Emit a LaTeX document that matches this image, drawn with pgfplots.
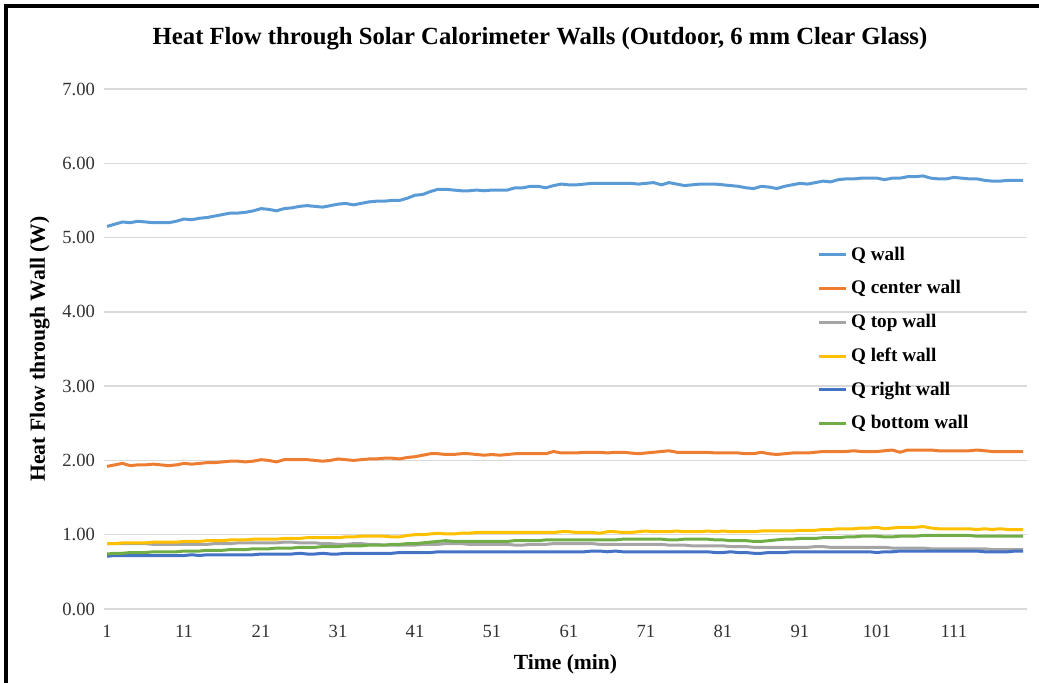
\documentclass[border=0pt]{standalone}
\usepackage{fontspec}
\setmainfont{Liberation Serif}
\usepackage{pgfplots}
\usepackage{pgfplotstable}
\pgfplotsset{compat=1.18}

\definecolor{cwall}{HTML}{5B9BD5}
\definecolor{ccenter}{HTML}{ED7D31}
\definecolor{ctop}{HTML}{A5A5A5}
\definecolor{cleft}{HTML}{FFC000}
\definecolor{cright}{HTML}{4472C4}
\definecolor{cbottom}{HTML}{70AD47}
\definecolor{gridgrey}{HTML}{D9D9D9}

% Heat flow (W) per minute for each wall
\pgfplotstableread{
t wall center top left right bottom
1 5.15 1.92 0.88 0.88 0.71 0.74
2 5.18 1.94 0.88 0.88 0.72 0.75
3 5.21 1.96 0.88 0.89 0.72 0.75
4 5.20 1.93 0.88 0.89 0.72 0.76
5 5.22 1.94 0.88 0.89 0.72 0.76
6 5.21 1.94 0.88 0.89 0.72 0.76
7 5.20 1.95 0.87 0.90 0.72 0.77
8 5.20 1.94 0.87 0.90 0.72 0.77
9 5.20 1.93 0.87 0.90 0.72 0.77
10 5.22 1.94 0.87 0.90 0.72 0.77
11 5.25 1.96 0.87 0.91 0.72 0.78
12 5.24 1.95 0.87 0.91 0.73 0.78
13 5.26 1.96 0.87 0.91 0.72 0.78
14 5.27 1.97 0.87 0.92 0.73 0.79
15 5.29 1.97 0.88 0.92 0.73 0.79
16 5.31 1.98 0.88 0.92 0.73 0.79
17 5.33 1.99 0.88 0.93 0.73 0.80
18 5.33 1.99 0.89 0.93 0.73 0.80
19 5.34 1.98 0.89 0.93 0.73 0.80
20 5.36 1.99 0.89 0.94 0.73 0.81
21 5.39 2.01 0.89 0.94 0.74 0.81
22 5.38 2.00 0.89 0.94 0.74 0.81
23 5.36 1.98 0.89 0.94 0.74 0.82
24 5.39 2.01 0.90 0.95 0.74 0.82
25 5.40 2.01 0.90 0.95 0.74 0.82
26 5.42 2.01 0.89 0.95 0.75 0.83
27 5.43 2.01 0.89 0.96 0.74 0.83
28 5.42 2.00 0.89 0.96 0.74 0.83
29 5.41 1.99 0.88 0.96 0.75 0.84
30 5.43 2.00 0.88 0.96 0.74 0.84
31 5.45 2.02 0.87 0.96 0.74 0.84
32 5.46 2.01 0.87 0.97 0.75 0.85
33 5.44 2.00 0.88 0.97 0.75 0.85
34 5.46 2.01 0.88 0.98 0.75 0.85
35 5.48 2.02 0.87 0.98 0.75 0.86
36 5.49 2.02 0.87 0.98 0.75 0.86
37 5.49 2.03 0.86 0.98 0.75 0.86
38 5.50 2.03 0.86 0.97 0.75 0.87
39 5.50 2.02 0.86 0.97 0.76 0.87
40 5.53 2.04 0.86 0.99 0.76 0.88
41 5.57 2.05 0.86 1.00 0.76 0.88
42 5.58 2.07 0.87 1.00 0.76 0.89
43 5.62 2.09 0.87 1.01 0.76 0.90
44 5.65 2.09 0.87 1.02 0.77 0.91
45 5.65 2.08 0.88 1.01 0.77 0.92
46 5.64 2.08 0.88 1.01 0.77 0.91
47 5.63 2.09 0.88 1.02 0.77 0.91
48 5.63 2.09 0.87 1.02 0.77 0.91
49 5.64 2.08 0.87 1.03 0.77 0.91
50 5.63 2.07 0.87 1.03 0.77 0.91
51 5.64 2.08 0.87 1.03 0.77 0.91
52 5.64 2.07 0.87 1.03 0.77 0.91
53 5.64 2.08 0.87 1.03 0.77 0.91
54 5.67 2.09 0.86 1.03 0.77 0.92
55 5.67 2.09 0.86 1.03 0.77 0.92
56 5.69 2.09 0.87 1.03 0.77 0.92
57 5.69 2.09 0.87 1.03 0.77 0.92
58 5.67 2.09 0.87 1.03 0.77 0.93
59 5.70 2.12 0.88 1.03 0.77 0.93
60 5.72 2.10 0.88 1.04 0.77 0.93
61 5.71 2.10 0.88 1.04 0.77 0.93
62 5.71 2.10 0.88 1.03 0.77 0.93
63 5.72 2.11 0.88 1.03 0.77 0.93
64 5.73 2.11 0.88 1.03 0.78 0.93
65 5.73 2.11 0.87 1.02 0.78 0.93
66 5.73 2.10 0.87 1.04 0.77 0.93
67 5.73 2.11 0.87 1.04 0.78 0.93
68 5.73 2.11 0.87 1.03 0.77 0.94
69 5.73 2.10 0.87 1.03 0.77 0.94
70 5.72 2.09 0.87 1.04 0.77 0.94
71 5.73 2.10 0.87 1.05 0.77 0.94
72 5.74 2.11 0.87 1.04 0.77 0.94
73 5.71 2.12 0.87 1.04 0.77 0.94
74 5.74 2.13 0.86 1.04 0.77 0.93
75 5.72 2.11 0.86 1.05 0.77 0.93
76 5.70 2.11 0.86 1.04 0.77 0.94
77 5.71 2.11 0.85 1.04 0.77 0.94
78 5.72 2.11 0.85 1.04 0.77 0.94
79 5.72 2.11 0.85 1.05 0.77 0.94
80 5.72 2.10 0.85 1.04 0.76 0.93
81 5.71 2.10 0.85 1.05 0.76 0.93
82 5.70 2.10 0.84 1.04 0.77 0.92
83 5.69 2.10 0.84 1.04 0.76 0.92
84 5.67 2.09 0.84 1.04 0.76 0.92
85 5.66 2.09 0.83 1.04 0.75 0.91
86 5.69 2.11 0.83 1.05 0.75 0.91
87 5.68 2.09 0.83 1.05 0.76 0.92
88 5.66 2.08 0.83 1.05 0.76 0.93
89 5.69 2.09 0.83 1.05 0.76 0.94
90 5.71 2.10 0.83 1.05 0.77 0.94
91 5.73 2.10 0.83 1.06 0.77 0.95
92 5.72 2.10 0.83 1.06 0.77 0.95
93 5.74 2.11 0.84 1.06 0.77 0.95
94 5.76 2.12 0.84 1.07 0.77 0.96
95 5.75 2.12 0.83 1.07 0.77 0.96
96 5.78 2.12 0.83 1.08 0.77 0.96
97 5.79 2.12 0.83 1.08 0.77 0.97
98 5.79 2.13 0.83 1.08 0.77 0.97
99 5.80 2.12 0.83 1.09 0.77 0.98
100 5.80 2.12 0.83 1.09 0.77 0.98
101 5.80 2.12 0.83 1.10 0.76 0.98
102 5.78 2.13 0.83 1.08 0.77 0.97
103 5.80 2.14 0.82 1.09 0.77 0.97
104 5.80 2.11 0.82 1.10 0.78 0.98
105 5.82 2.14 0.82 1.10 0.78 0.98
106 5.82 2.14 0.82 1.10 0.78 0.98
107 5.83 2.14 0.82 1.11 0.78 0.99
108 5.80 2.14 0.81 1.09 0.78 0.99
109 5.79 2.13 0.81 1.08 0.78 0.99
110 5.79 2.13 0.81 1.08 0.78 0.99
111 5.81 2.13 0.81 1.08 0.78 0.99
112 5.80 2.13 0.81 1.08 0.78 0.99
113 5.79 2.13 0.81 1.08 0.78 0.99
114 5.79 2.14 0.81 1.07 0.78 0.98
115 5.77 2.13 0.81 1.08 0.77 0.98
116 5.76 2.12 0.80 1.07 0.77 0.98
117 5.76 2.12 0.80 1.08 0.77 0.98
118 5.77 2.12 0.80 1.07 0.77 0.98
119 5.77 2.12 0.80 1.07 0.78 0.98
120 5.77 2.12 0.80 1.07 0.78 0.98
}\heatdata

\begin{document}
\begin{tikzpicture}
\useasboundingbox (0pt,0pt) rectangle (519.5pt,341.5pt);
% outer chart frame (left and top edges)
\draw[line width=1.6pt,black] (3pt,0pt) -- (3pt,338.5pt) -- (519.5pt,338.5pt);
\node[font=\fontsize{12.35}{15}\selectfont\bfseries] at (270pt,322.3pt)
  {Heat Flow through Solar Calorimeter Walls (Outdoor, 6 mm Clear Glass)};
\begin{axis}[
  at={(52pt,37pt)}, anchor=south west,
  scale only axis, width=461.5pt, height=260pt,
  xmin=0.6, xmax=120.5, ymin=0, ymax=7,
  xtick={1,11,...,111}, ytick={0,1,...,7},
  axis line style={draw=none},
  major tick length=0pt,
  ymajorgrids, grid style={gridgrey, line width=0.7pt},
  /pgf/number format/assume math mode=true,
  yticklabel style={/pgf/number format/fixed, /pgf/number format/fixed zerofill,
    /pgf/number format/precision=2, xshift=-1pt},
  ticklabel style={font=\fontsize{9.3}{11}\selectfont, text=black!80},
  xticklabel style={yshift=-4.5pt},
  xlabel={Time (min)}, ylabel={Heat Flow through Wall (W)},
  label style={font=\fontsize{10.8}{13}\selectfont\bfseries},
  xlabel style={yshift=-1.5pt},
  ylabel style={yshift=-0.5pt},
  legend style={draw=none, fill=none, at={(axis cs:92.4,4.99)}, anchor=north west,
    font=\fontsize{9.6}{11.5}\selectfont\bfseries, row sep=4.7pt,
    legend cell align=left},
  legend image code/.code={\draw[#1] (0pt,0pt) -- (13.5pt,0pt);},
  every axis plot/.append style={line width=1.5pt, line join=round},
]
\addplot[cwall, no markers] table[x=t, y=wall] {\heatdata};
\addlegendentry{Q wall}
\addplot[ccenter, no markers] table[x=t, y=center] {\heatdata};
\addlegendentry{Q center wall}
\addplot[ctop, no markers] table[x=t, y=top] {\heatdata};
\addlegendentry{Q top wall}
\addplot[cleft, no markers] table[x=t, y=left] {\heatdata};
\addlegendentry{Q left wall}
\addplot[cright, no markers] table[x=t, y=right] {\heatdata};
\addlegendentry{Q right wall}
\addplot[cbottom, no markers] table[x=t, y=bottom] {\heatdata};
\addlegendentry{Q bottom wall}
\end{axis}
\end{tikzpicture}
\end{document}
